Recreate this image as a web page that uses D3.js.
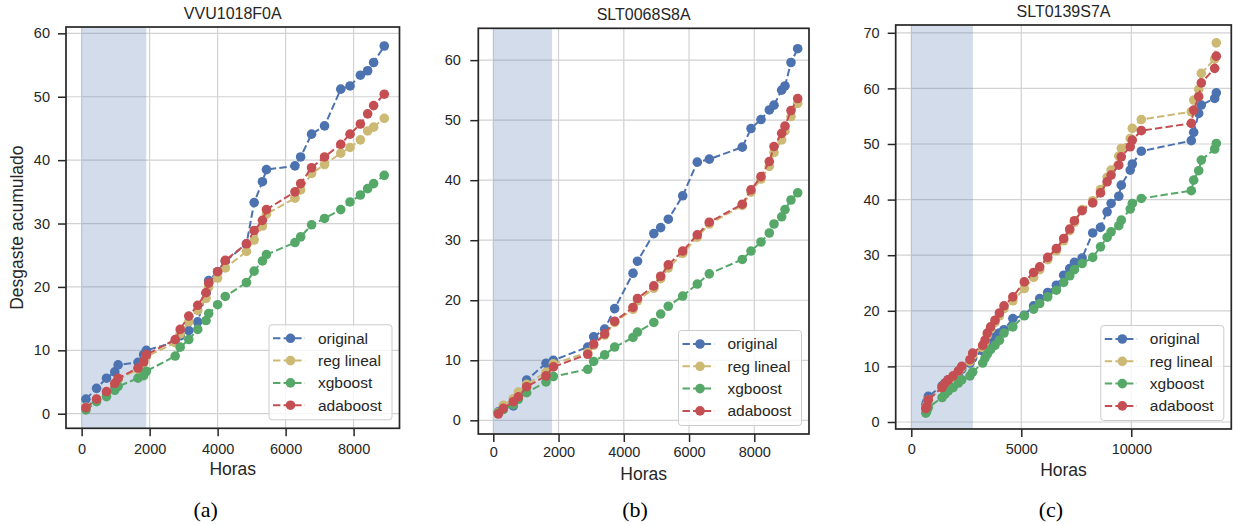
<!DOCTYPE html>
<html>
<head>
<meta charset="utf-8">
<script src="https://cdn.jsdelivr.net/npm/d3@7"></script>
<style>
  body { margin: 0; background: #fff; }
  svg { display: block; }
</style>
</head>
<body>
<svg id="chart" width="1233" height="525"></svg>
<script>
// ---- Data: accumulated wear vs operating hours, three units ----
const seriesNames = ["original", "reg lineal", "xgboost", "adaboost"];
const seriesColors = ["#4C72B0", "#CCB974", "#55A868", "#C44E52"];
const panelTitles = ["VVU1018F0A", "SLT0068S8A", "SLT0139S7A"];
const panelCaptions = ["(a)", "(b)", "(c)"];
const trainingEnd = [1900, 1800, 2800];

// Unit VVU1018F0A
const hoursA = [126, 439, 732, 975, 1073, 1658, 1824, 1903, 2752, 2899, 3151, 3415, 3660, 3737, 4000, 4225, 4849, 5075, 5318, 5436, 6275, 6442, 6764, 7145, 7622, 7895, 8199, 8413, 8589, 8902];
const originalA = [2.3, 4.0, 5.6, 6.6, 7.7, 8.1, 9.3, 10.0, 11.3, 12.3, 13.1, 14.5, 19.0, 21.0, 22.4, 24.0, 26.8, 33.3, 36.6, 38.5, 39.1, 40.5, 44.1, 45.4, 51.2, 51.7, 53.4, 54.1, 55.4, 58.0];
const regLinealA = [1.0, 2.3, 3.3, 4.6, 5.4, 7.0, 8.0, 9.0, 11.2, 12.6, 14.5, 16.3, 18.2, 20.0, 21.4, 23.0, 25.6, 27.4, 29.6, 31.5, 34.0, 35.3, 37.9, 39.3, 41.1, 42.0, 43.2, 44.6, 45.2, 46.6];
const xgboostA = [0.6, 1.9, 2.7, 3.7, 4.3, 5.6, 6.0, 6.7, 9.1, 10.5, 11.7, 13.3, 14.7, 15.8, 17.2, 18.5, 20.7, 22.5, 24.1, 25.1, 27.0, 27.9, 29.8, 30.8, 32.2, 33.4, 34.5, 35.5, 36.3, 37.6];
const adaboostA = [0.95, 2.3, 3.5, 4.8, 5.6, 7.2, 8.2, 9.3, 11.7, 13.3, 15.4, 17.1, 19.1, 20.6, 22.4, 24.2, 26.8, 28.9, 30.5, 32.2, 35.0, 36.3, 38.8, 40.5, 42.5, 44.1, 45.7, 47.3, 48.6, 50.4];

// Unit SLT0068S8A
const hoursB = [153, 307, 613, 767, 1023, 1615, 1840, 2894, 3076, 3413, 3720, 4282, 4420, 4920, 5131, 5364, 5805, 6253, 6621, 7632, 7899, 8205, 8460, 8604, 8839, 8941, 9125, 9330];
const originalB = [1.4, 2.0, 2.4, 4.0, 6.7, 9.5, 10.0, 12.2, 13.9, 15.2, 18.6, 24.5, 26.5, 31.1, 32.1, 33.5, 37.4, 43.0, 43.5, 45.5, 48.6, 50.1, 51.7, 52.5, 55.0, 55.7, 59.6, 61.9];
const regLinealB = [1.3, 2.5, 3.6, 4.7, 6.0, 8.0, 9.4, 11.3, 12.5, 14.2, 16.3, 18.5, 19.9, 22.0, 23.6, 25.4, 27.8, 30.5, 32.7, 35.8, 38.0, 40.2, 42.3, 44.6, 46.7, 48.2, 50.6, 52.8];
const xgboostB = [1.2, 1.8, 2.6, 3.5, 4.6, 6.4, 7.3, 8.5, 9.8, 10.9, 12.2, 13.8, 14.7, 16.3, 17.7, 19.0, 20.7, 22.7, 24.4, 26.8, 28.2, 29.7, 31.2, 32.7, 33.9, 35.1, 36.7, 37.9];
const adaboostB = [1.05, 2.0, 3.1, 3.9, 5.6, 7.4, 8.9, 11.0, 12.7, 14.4, 16.5, 18.8, 20.3, 22.4, 24.0, 25.9, 28.2, 30.9, 33.0, 36.0, 38.4, 40.6, 43.1, 45.6, 47.8, 49.0, 51.6, 53.6];

// Unit SLT0139S7A
const hoursC = [660, 700, 773, 1400, 1530, 1682, 1900, 2140, 2291, 2668, 2790, 3245, 3350, 3455, 3605, 3805, 4005, 4215, 4615, 5136, 5560, 5836, 6200, 6595, 6927, 7200, 7414, 7764, 8245, 8600, 8900, 9082, 9432, 9545, 9950, 10045, 10455, 12727, 12836, 13063, 13182, 13790, 13864];
const originalC = [3.1, 3.6, 4.6, 6.5, 7.0, 7.6, 8.1, 8.8, 9.5, 10.6, 11.5, 12.8, 13.5, 14.2, 15.0, 15.8, 16.0, 16.6, 18.6, 19.2, 20.9, 22.2, 23.3, 24.6, 26.4, 27.6, 28.7, 29.5, 34.0, 35.0, 37.8, 39.3, 40.6, 42.6, 45.3, 46.4, 48.7, 50.6, 52.1, 55.5, 57.0, 58.2, 59.2];
const regLinealC = [2.6, 3.0, 4.0, 6.1, 6.8, 7.4, 8.1, 9.1, 9.8, 10.9, 12.0, 13.4, 14.3, 15.6, 16.7, 17.9, 19.1, 20.4, 21.8, 24.0, 26.0, 27.4, 29.2, 30.8, 32.6, 34.4, 35.9, 38.2, 39.8, 41.8, 44.0, 45.3, 47.8, 49.2, 51.0, 52.8, 54.4, 55.8, 57.9, 59.8, 62.7, 65.3, 68.2];
const xgboostC = [1.6, 1.9, 2.6, 4.4, 5.0, 5.6, 6.2, 7.0, 7.6, 8.3, 9.0, 10.6, 11.5, 12.2, 13.0, 13.8, 14.7, 16.0, 17.1, 19.1, 20.3, 21.3, 22.5, 23.7, 25.1, 26.3, 27.4, 28.5, 29.6, 31.5, 33.2, 34.2, 35.3, 36.3, 38.3, 39.3, 40.2, 41.6, 43.5, 45.2, 47.1, 49.1, 50.1];
const adaboostC = [2.4, 2.8, 4.0, 6.2, 7.0, 7.6, 8.3, 9.2, 10.0, 11.2, 12.4, 13.8, 14.7, 16.0, 17.1, 18.3, 19.6, 20.9, 22.5, 25.2, 26.9, 27.9, 29.6, 31.2, 33.0, 34.7, 36.2, 38.0, 39.4, 41.2, 43.2, 44.4, 46.2, 47.7, 49.5, 50.7, 52.4, 53.7, 56.1, 58.5, 61.0, 63.6, 65.8];

// Tick values
const xTicksA = [0, 2000, 4000, 6000, 8000];
const xTicksB = [0, 2000, 4000, 6000, 8000];
const xTicksC = [0, 5000, 10000];
const yTicksA = [0, 10, 20, 30, 40, 50, 60];
const yTicksB = [0, 10, 20, 30, 40, 50, 60];
const yTicksC = [0, 10, 20, 30, 40, 50, 60, 70];

// ---- Layout ----
const panels = [
  { hours: hoursA, values: [originalA, regLinealA, xgboostA, adaboostA], xTicks: xTicksA, yTicks: yTicksA,
    box: { l: 66, r: 399.5, t: 27, b: 428.3 }, xDomain: [-460, 9350], yDomain: [-2.3, 61.0],
    titleY: 19, xLabelY: 475, yPad: 8, xPad: 7, captionX: 205.7 },
  { hours: hoursB, values: [originalB, regLinealB, xgboostB, adaboostB], xTicks: xTicksB, yTicks: yTicksB,
    box: { l: 478.3, r: 809, t: 28.3, b: 434 }, xDomain: [-460, 9677], yDomain: [-2.28, 65.3],
    titleY: 20, xLabelY: 479.5, yPad: 9.5, xPad: 5, captionX: 635 },
  { hours: hoursC, values: [originalC, regLinealC, xgboostC, adaboostC], xTicks: xTicksC, yTicks: yTicksC,
    box: { l: 895.7, r: 1231.3, t: 25, b: 429 }, xDomain: [-709, 14545], yDomain: [-1.26, 71.4],
    titleY: 16.5, xLabelY: 476, yPad: 8, xPad: 7, captionX: 1051 }
];

const FONT = "'Liberation Sans', Arial, 'DejaVu Sans', sans-serif";
const INK = "#262626";
const svg = d3.select("#chart");
svg.append("rect").attr("width", 1233).attr("height", 525).attr("fill", "#fff");

panels.forEach((p, pi) => {
  const { l, r, t, b } = p.box;
  const x = d3.scaleLinear().domain(p.xDomain).range([l, r]);
  const y = d3.scaleLinear().domain(p.yDomain).range([b, t]);
  const g = svg.append("g");

  const clipId = "clip" + pi;
  svg.append("clipPath").attr("id", clipId)
    .append("rect").attr("x", l).attr("y", t).attr("width", r - l).attr("height", b - t);

  // grid
  const grid = g.append("g").attr("stroke", "#d2d2d2").attr("stroke-width", 1.2);
  grid.selectAll(".gx").data(p.xTicks).join("line")
    .attr("x1", d => x(d)).attr("x2", d => x(d)).attr("y1", t).attr("y2", b);
  grid.selectAll(".gy").data(p.yTicks).join("line")
    .attr("y1", d => y(d)).attr("y2", d => y(d)).attr("x1", l).attr("x2", r);

  // training window
  g.append("rect")
    .attr("x", x(0)).attr("width", x(trainingEnd[pi]) - x(0))
    .attr("y", t).attr("height", b - t)
    .attr("fill", "#4C72B0").attr("fill-opacity", 0.25);

  // series
  const plot = g.append("g").attr("clip-path", `url(#${clipId})`);
  const line = d3.line().x(d => x(d[0])).y(d => y(d[1]));
  p.values.forEach((vals, si) => {
    const pts = p.hours.map((h, i) => [h, vals[i]]);
    plot.append("path").datum(pts)
      .attr("d", line).attr("fill", "none")
      .attr("stroke", seriesColors[si]).attr("stroke-width", 2)
      .attr("stroke-dasharray", "7.4,3.2");
    plot.append("g").selectAll("circle").data(pts).join("circle")
      .attr("cx", d => x(d[0])).attr("cy", d => y(d[1])).attr("r", 4.8)
      .attr("fill", seriesColors[si]);
  });

  // axes
  const xAxis = d3.axisBottom(x).tickValues(p.xTicks).tickSize(8).tickPadding(p.xPad).tickFormat(d3.format("d"));
  const yAxis = d3.axisLeft(y).tickValues(p.yTicks).tickSize(8).tickPadding(p.yPad).tickFormat(d3.format("d"));
  const gx = g.append("g").attr("transform", `translate(0,${b})`).call(xAxis);
  const gy = g.append("g").attr("transform", `translate(${l},0)`).call(yAxis);
  [gx, gy].forEach(ax => {
    ax.select(".domain").remove();
    ax.selectAll("line").attr("stroke", INK).attr("stroke-width", 1.5);
    ax.selectAll("text").attr("fill", INK).style("font-family", FONT).style("font-size", "14.5px");
  });

  // frame
  g.append("rect").attr("x", l).attr("y", t).attr("width", r - l).attr("height", b - t)
    .attr("fill", "none").attr("stroke", INK).attr("stroke-width", 1.7);

  // title and labels
  g.append("text").attr("x", (l + r) / 2).attr("y", p.titleY)
    .attr("text-anchor", "middle").attr("fill", INK)
    .style("font-family", FONT).style("font-size", "16px").text(panelTitles[pi]);
  g.append("text").attr("x", (l + r) / 2).attr("y", p.xLabelY)
    .attr("text-anchor", "middle").attr("fill", INK)
    .style("font-family", FONT).style("font-size", "17.5px").text("Horas");
  if (pi === 0) {
    g.append("text")
      .attr("transform", `translate(23,${(t + b) / 2}) rotate(-90)`)
      .attr("text-anchor", "middle").attr("fill", INK)
      .style("font-family", FONT).style("font-size", "17.5px").text("Desgaste acumulado");
  }
  g.append("text").attr("x", p.captionX).attr("y", 517)
    .attr("text-anchor", "middle").attr("fill", "#000")
    .style("font-family", "'Liberation Serif', 'DejaVu Serif', serif").style("font-size", "22px")
    .text(panelCaptions[pi]);

  // legend (lower right)
  const lw = 123, lh = 95;
  const lx = r - 7.5 - lw, ly = b - 8.5 - lh;
  const leg = g.append("g").attr("transform", `translate(${lx},${ly})`);
  leg.append("rect").attr("width", lw).attr("height", lh).attr("rx", 3)
    .attr("fill", "#fff").attr("fill-opacity", 0.8)
    .attr("stroke", "#cccccc").attr("stroke-width", 1);
  seriesNames.forEach((name, si) => {
    const cy = 13.5 + si * 22.3;
    leg.append("line").attr("x1", 4).attr("x2", 36).attr("y1", cy).attr("y2", cy)
      .attr("stroke", seriesColors[si]).attr("stroke-width", 2).attr("stroke-dasharray", "7.4,3.2");
    leg.append("circle").attr("cx", 21.5).attr("cy", cy).attr("r", 4.8).attr("fill", seriesColors[si]);
    leg.append("text").attr("x", 49).attr("y", cy).attr("dy", "0.35em")
      .attr("fill", INK).style("font-family", FONT).style("font-size", "15.5px").text(name);
  });
});
</script>
</body>
</html>
